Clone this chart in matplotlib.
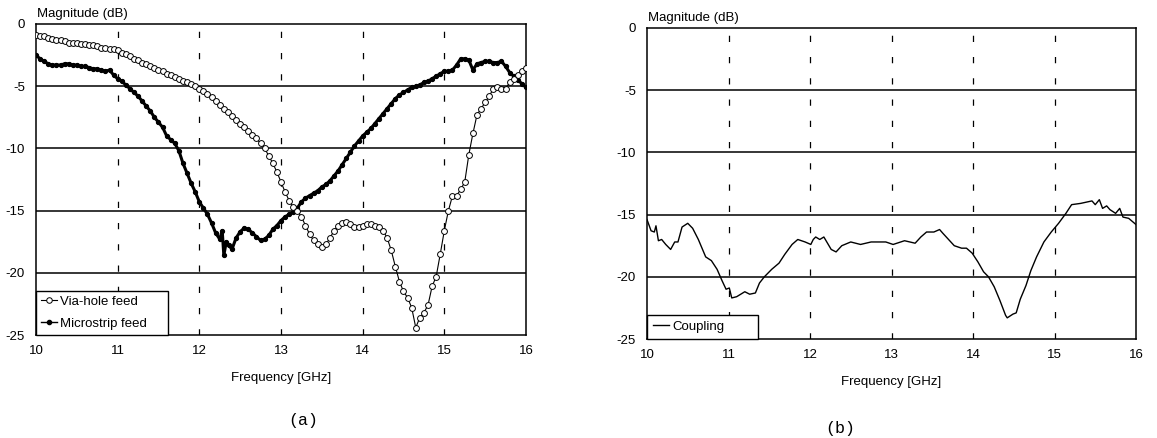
import numpy as np
import matplotlib
matplotlib.use("Agg")
import matplotlib.pyplot as plt
from matplotlib.lines import Line2D

plt.rcParams['font.family'] = ['Liberation Sans', 'DejaVu Sans']
plt.rcParams['axes.unicode_minus'] = False

# ---------------- data ----------------
via_freq = [10.00, 10.05, 10.10, 10.15, 10.20, 10.25, 10.30, 10.35, 10.40, 10.45,
            10.50, 10.55, 10.60, 10.65, 10.70, 10.75, 10.80, 10.85, 10.90, 10.95,
            11.00, 11.05, 11.10, 11.15, 11.20, 11.25, 11.30, 11.35, 11.40, 11.45,
            11.50, 11.55, 11.60, 11.65, 11.70, 11.75, 11.80, 11.85, 11.90, 11.95,
            12.00, 12.05, 12.10, 12.15, 12.20, 12.25, 12.30, 12.35, 12.40, 12.45,
            12.50, 12.55, 12.60, 12.65, 12.70, 12.75, 12.80, 12.85, 12.90, 12.95,
            13.00, 13.05, 13.10, 13.15, 13.20, 13.25, 13.30, 13.35, 13.40, 13.45,
            13.50, 13.55, 13.60, 13.65, 13.70, 13.75, 13.80, 13.85, 13.90, 13.95,
            14.00, 14.05, 14.10, 14.15, 14.20, 14.25, 14.30, 14.35, 14.40, 14.45,
            14.50, 14.55, 14.60, 14.65, 14.70, 14.75, 14.80, 14.85, 14.90, 14.95,
            15.00, 15.05, 15.10, 15.15, 15.20, 15.25, 15.30, 15.35, 15.40, 15.45,
            15.50, 15.55, 15.60, 15.65, 15.70, 15.75, 15.80, 15.85, 15.90, 15.95,
            16.00]
via_db = [-0.9, -1.0, -1.0, -1.1, -1.2, -1.3, -1.3, -1.4, -1.5, -1.5,
          -1.5, -1.6, -1.6, -1.7, -1.7, -1.8, -1.9, -1.9, -2.0, -2.0,
          -2.1, -2.3, -2.4, -2.6, -2.8, -2.9, -3.1, -3.2, -3.4, -3.5,
          -3.7, -3.8, -4.0, -4.1, -4.3, -4.4, -4.6, -4.7, -4.8, -5.0,
          -5.2, -5.4, -5.6, -5.9, -6.2, -6.5, -6.8, -7.1, -7.4, -7.7,
          -8.0, -8.3, -8.6, -8.9, -9.2, -9.6, -10.0, -10.6, -11.2, -11.9,
          -12.7, -13.5, -14.2, -14.7, -15.0, -15.5, -16.2, -16.9, -17.4, -17.7,
          -17.9, -17.7, -17.2, -16.6, -16.2, -16.0, -15.9, -16.1, -16.3, -16.3,
          -16.2, -16.1, -16.1, -16.2, -16.3, -16.6, -17.2, -18.2, -19.5, -20.7,
          -21.5, -22.0, -22.8, -24.4, -23.6, -23.2, -22.6, -21.1, -20.3, -18.5,
          -16.6, -15.0, -13.8, -13.8, -13.3, -12.7, -10.5, -8.8, -7.3, -6.8,
          -6.3, -5.8, -5.2, -5.1, -5.2, -5.2, -4.7, -4.4, -4.1, -3.8,
          -3.5]

ms_freq = [10.00, 10.05, 10.10, 10.15, 10.20, 10.25, 10.30, 10.35, 10.40, 10.45,
           10.50, 10.55, 10.60, 10.65, 10.70, 10.75, 10.80, 10.85, 10.90, 10.95,
           11.00, 11.05, 11.10, 11.15, 11.20, 11.25, 11.30, 11.35, 11.40, 11.45,
           11.50, 11.55, 11.60, 11.65, 11.70, 11.75, 11.80, 11.85, 11.90, 11.95,
           12.00, 12.05, 12.10, 12.15, 12.20, 12.25, 12.28, 12.30, 12.33, 12.36,
           12.40, 12.45, 12.50, 12.55, 12.60, 12.65, 12.70, 12.75, 12.80, 12.85,
           12.90, 12.95, 13.00, 13.05, 13.10, 13.15, 13.20, 13.25, 13.30, 13.35,
           13.40, 13.45, 13.50, 13.55, 13.60, 13.65, 13.70, 13.75, 13.80, 13.85,
           13.90, 13.95, 14.00, 14.05, 14.10, 14.15, 14.20, 14.25, 14.30, 14.35,
           14.40, 14.45, 14.50, 14.55, 14.60, 14.65, 14.70, 14.75, 14.80, 14.85,
           14.90, 14.95, 15.00, 15.05, 15.10, 15.15, 15.20, 15.25, 15.30, 15.35,
           15.40, 15.45, 15.50, 15.55, 15.60, 15.65, 15.70, 15.75, 15.80, 15.85,
           15.90, 15.95, 16.00]
ms_db = [-2.5, -2.8, -3.0, -3.2, -3.3, -3.3, -3.3, -3.2, -3.2, -3.3,
         -3.3, -3.4, -3.4, -3.5, -3.6, -3.6, -3.7, -3.8, -3.7, -4.1,
         -4.4, -4.6, -4.9, -5.2, -5.5, -5.8, -6.2, -6.6, -7.0, -7.5,
         -7.9, -8.3, -9.0, -9.3, -9.6, -10.2, -11.2, -12.0, -12.8, -13.5,
         -14.3, -14.8, -15.3, -16.0, -16.8, -17.3, -16.6, -18.6, -17.5, -17.8,
         -18.1, -17.2, -16.7, -16.4, -16.5, -16.8, -17.1, -17.4, -17.3, -17.0,
         -16.5, -16.2, -15.8, -15.5, -15.3, -15.1, -14.8, -14.3, -14.0, -13.8,
         -13.6, -13.4, -13.1, -12.9, -12.6, -12.2, -11.8, -11.3, -10.8, -10.3,
         -9.8, -9.4, -9.0, -8.7, -8.4, -8.0, -7.6, -7.2, -6.8, -6.4,
         -6.0, -5.7, -5.5, -5.3, -5.1, -5.0, -4.9, -4.7, -4.6, -4.4,
         -4.2, -4.0, -3.8, -3.8, -3.7, -3.3, -2.8, -2.8, -2.9, -3.7,
         -3.2, -3.1, -3.0, -3.0, -3.1, -3.1, -3.0, -3.4, -3.9, -4.2,
         -4.5, -4.8, -5.1]

cp_freq = [10.00, 10.05, 10.09, 10.11, 10.14, 10.18, 10.23, 10.29, 10.34, 10.38,
           10.43, 10.50, 10.56, 10.63, 10.72, 10.79, 10.86, 10.92, 10.97, 11.01,
           11.04, 11.10, 11.20, 11.26, 11.33, 11.38, 11.44, 11.53, 11.62, 11.69,
           11.78, 11.85, 11.94, 12.01, 12.04, 12.07, 12.12, 12.17, 12.26, 12.32,
           12.39, 12.50, 12.62, 12.75, 12.93, 13.02, 13.16, 13.29, 13.36, 13.43,
           13.52, 13.59, 13.63, 13.70, 13.77, 13.86, 13.92, 13.99, 14.06, 14.13,
           14.19, 14.26, 14.33, 14.40, 14.42, 14.49, 14.53, 14.58, 14.65, 14.71,
           14.78, 14.87, 14.96, 15.05, 15.14, 15.21, 15.32, 15.46, 15.50, 15.55,
           15.59, 15.64, 15.68, 15.75, 15.80, 15.84, 15.91, 16.00]
cp_db = [-15.4, -16.3, -16.4, -15.9, -17.1, -17.0, -17.4, -17.8, -17.2, -17.2,
         -16.0, -15.7, -16.1, -17.0, -18.4, -18.7, -19.4, -20.3, -21.0, -20.9,
         -21.7, -21.6, -21.2, -21.4, -21.3, -20.5, -20.0, -19.4, -18.9, -18.2,
         -17.4, -17.0, -17.2, -17.4, -17.0, -16.8, -17.0, -16.8, -17.8, -18.0,
         -17.5, -17.2, -17.4, -17.2, -17.2, -17.4, -17.1, -17.3, -16.8, -16.4,
         -16.4, -16.2, -16.5, -17.0, -17.5, -17.7, -17.7, -18.1, -18.8, -19.6,
         -20.0, -20.8, -21.9, -23.1, -23.3, -23.0, -22.9, -21.8, -20.7, -19.5,
         -18.4, -17.2, -16.4, -15.7, -14.9, -14.2, -14.1, -13.9, -14.2, -13.8,
         -14.5, -14.3, -14.6, -14.9, -14.5, -15.2, -15.3, -15.8]

x_ticks = [10, 11, 12, 13, 14, 15, 16]
y_ticks = [0, -5, -10, -15, -20, -25]
x_label = "Frequency [GHz]"
y_label = "Magnitude (dB)"

FS = 9.5

# ---------------- figure ----------------
fig = plt.figure(figsize=(11.57, 4.38), dpi=100)
ax1 = fig.add_axes([36/1157, 1-335/438, 490/1157, 311/438])
ax2 = fig.add_axes([647/1157, 1-339/438, 489/1157, 311/438])

for ax in (ax1, ax2):
    ax.set_xlim(10, 16)
    ax.set_ylim(-25, 0)
    ax.set_xticks(x_ticks)
    ax.set_yticks(y_ticks)
    ax.set_xticklabels([str(t) for t in x_ticks])
    ax.set_yticklabels([str(t) for t in y_ticks])
    ax.tick_params(length=0, labelsize=FS, pad=7)
    ax.tick_params(axis='y', pad=8)
    for t in y_ticks[1:-1]:
        ax.axhline(t, color='black', lw=1.1, zorder=1)
    for t in x_ticks[1:-1]:
        ax.axvline(t, color='black', lw=0.9, linestyle=(0, (5, 12)), zorder=1)
    for s in ax.spines.values():
        s.set_color('black')
        s.set_linewidth(1.1)
    ax.set_xlabel(x_label, fontsize=FS, labelpad=11)
    ax.annotate(y_label, xy=(0, 1), xycoords='axes fraction',
                xytext=(1, 3), textcoords='offset points',
                ha='left', va='bottom', fontsize=FS)

# panel (a)
ax1.plot(via_freq, via_db, color='black', lw=0.8, marker='o', ms=4.2,
         mfc='white', mec='black', mew=0.7, zorder=3)
ax1.plot(ms_freq, ms_db, color='black', lw=2.2, marker='o', ms=2.8,
         mfc='black', mec='black', zorder=2)
h_via = Line2D([], [], color='black', lw=0.8, marker='o', ms=4, mfc='white',
               mec='black', mew=0.7)
h_ms = Line2D([], [], color='black', lw=1.0, marker='o', ms=3, mfc='black', mec='black')
leg1 = ax1.legend([h_via, h_ms], ["Via-hole feed", "Microstrip feed"],
                  loc='lower left', bbox_to_anchor=(0, 0, 132/490, 0.1),
                  mode='expand', borderaxespad=0,
                  fancybox=False, framealpha=1, edgecolor='black', fontsize=FS,
                  handlelength=1.2, handletextpad=0.25, labelspacing=0.75,
                  borderpad=0.38)
leg1.get_frame().set_linewidth(1.0)
leg1.set_zorder(5)

# panel (b)
ax2.plot(cp_freq, cp_db, color='black', lw=1.0, zorder=3)
h_cp = Line2D([], [], color='black', lw=1.0)
leg2 = ax2.legend([h_cp], ["Coupling"], loc='lower left',
                  bbox_to_anchor=(0, 0, 111/489, 0.1), mode='expand',
                  borderaxespad=0, fancybox=False, framealpha=1, edgecolor='black',
                  fontsize=FS, handlelength=1.2, handletextpad=0.25,
                  borderpad=0.45)
leg2.get_frame().set_linewidth(1.0)
leg2.set_zorder(5)

fig.text(303/1157, 1-420/438, "(a)", ha='center', va='center', fontsize=12,
         family=['Liberation Mono', 'DejaVu Sans Mono'])
fig.text(840/1157, 1-428/438, "(b)", ha='center', va='center', fontsize=12,
         family=['Liberation Mono', 'DejaVu Sans Mono'])

fig.savefig("out.png", dpi=100)
